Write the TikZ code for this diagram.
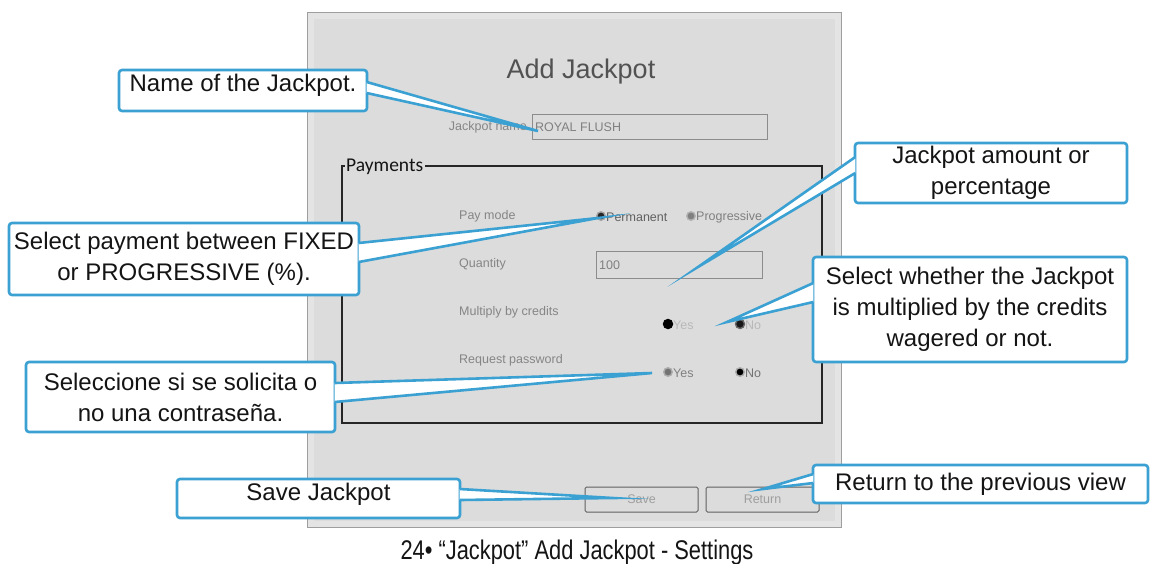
\documentclass[tikz,border=0pt]{standalone}
\usepackage{fontspec}
\setmainfont{Liberation Sans}
\newfontfamily\grpfont{Carlito}
\newfontfamily\narrowfont[FakeStretch=0.81]{Liberation Sans}
\usetikzlibrary{calc}
\definecolor{cblue}{RGB}{59,160,210}
\definecolor{panelout}{RGB}{228,228,228}
\definecolor{panelin}{RGB}{220,220,220}

% pointer wedge from a callout box to a target:
% #1 box, #2 side anchor, #3/#4 base y values, #5 target, #6 inward shift
\newcommand\calloutwedge[6]{%
  \path ($(#1.#2 |- 0,#3)+(#6,0)$) coordinate (#1-a)
        ($(#1.#2 |- 0,#4)+(#6,0)$) coordinate (#1-b);
  \fill[white] (#1-a) -- (#5) -- (#1-b) -- cycle;
  \draw[ptrline] (#1-a) -- (#5) -- (#1-b);
}

\begin{document}
\begin{tikzpicture}[x=1pt,y=-1pt,
  cbox/.style={draw=cblue, line width=2.6pt, fill=white, rounded corners=3pt,
    inner sep=0pt, align=center, font=\fontsize{24}{31}\selectfont, text=black!92},
  ptrline/.style={draw=cblue, line width=2.6pt, line join=miter, miter limit=30},
  uilabel/.style={anchor=west, inner sep=0pt, font=\fontsize{12.5}{14}\selectfont, text=black!48},
  radio/.style={circle, inner sep=0pt, minimum size=8.5pt, line width=1.4pt},
  uibutton/.style={draw=black!62, line width=1pt, rounded corners=1.5pt, inner sep=0pt,
    minimum width=113pt, minimum height=25pt, font=\fontsize{12.5}{14}\selectfont, text=black!38},
  field/.style={draw=black!45, line width=0.9pt, inner sep=0pt, anchor=north west},
  groupline/.style={draw=black!85, line width=1.8pt}
]
\useasboundingbox (0,0) rectangle (1151,563);

% window panel
\node[fill=panelout, draw=black!38, line width=1pt, inner sep=0pt, anchor=north west,
  minimum width=534pt, minimum height=515pt] (panel) at (307,12) {};
\node[fill=panelin, inner sep=0pt, anchor=north west,
  minimum width=521pt, minimum height=502pt] (panelbody) at (314,19) {};

\node[text=black!68, font=\fontsize{27}{30}\selectfont, inner sep=0pt] (title) at (581,72) {Add Jackpot};

% name field
\node[uilabel, anchor=east] (nameLbl) at (527,127) {Jackpot name};
\node[field, minimum width=235pt, minimum height=25pt] (nameField) at (532,114) {};
\node[uilabel, text=black!50] (nameVal) at (535,127) {ROYAL FLUSH};

% payments group
\node[anchor=west, inner sep=0pt, font=\grpfont\fontsize{19.5}{21}\selectfont, text=black!92] (grp) at (346,167) {Payments};
\draw[groupline] (grp.east |- 0,166) ++(2,0) -- (822,166) -- (822,423) -- (342,423) -- (342,166) -- (345,166);

\node[uilabel] (payLbl) at (459,216) {Pay mode};
\node[uilabel] (qtyLbl) at (459,264) {Quantity};
\node[uilabel] (multLbl) at (459,312) {Multiply by credits};
\node[uilabel] (pwdLbl) at (459,360) {Request password};

\node[radio, draw=black!35, fill=black!85] (rPerm) at (601,216) {};
\node[uilabel, text=black!62] (tPerm) at (606,217) {Permanent};
\node[radio, draw=black!30, fill=black!50] (rProg) at (691,216) {};
\node[uilabel, text=black!50] (tProg) at (696,217) {Progressive};

\node[field, minimum width=166pt, minimum height=27pt] (qtyField) at (596,251) {};
\node[uilabel, text=black!50] (qtyVal) at (599,265) {100};

\node[radio, draw=black, fill=black, minimum size=9pt] (rMultYes) at (668,324) {};
\node[uilabel, text=black!28] (tMultYes) at (673,325) {Yes};
\node[radio, draw=black!60, fill=black!90, minimum size=9pt] (rMultNo) at (740,324) {};
\node[uilabel, text=black!28] (tMultNo) at (745,325) {No};

\node[radio, draw=black!32, fill=black!55] (rPwdYes) at (668,372) {};
\node[uilabel, text=black!50] (tPwdYes) at (673,373) {Yes};
\node[radio, draw=black!32, fill=black] (rPwdNo) at (740,372) {};
\node[uilabel, text=black!55] (tPwdNo) at (745,373) {No};

% buttons
\node[uibutton] (saveBtn) at (641.5,499.5) {Save};
\node[uibutton] (retBtn) at (762.5,499.5) {Return};

% pointer targets
\coordinate (nameTip) at (538,131);
\coordinate (amountTip) at (698,267);
\coordinate (multTip) at (727,322);
\coordinate (payTip) at (598,218);
\coordinate (pwdTip) at (652,373);
\coordinate (saveTip) at (613,498);
\coordinate (retTip) at (763,489);

% callouts
\node[cbox, minimum width=248pt, minimum height=41pt, text depth=15pt] (nameBox) at (243,90.5) {Name of the Jackpot.};
\node[cbox, minimum width=272pt, minimum height=60pt] (amountBox) at (991,173) {Jackpot amount or\\percentage};
\node[cbox, minimum width=314pt, minimum height=105pt] (multBox) at (970,309.5) {Select whether the Jackpot\\is multiplied by the credits\\wagered or not.};
\node[cbox, minimum width=350pt, minimum height=72pt] (payBox) at (184,259) {Select payment between FIXED\\or PROGRESSIVE (\%).};
\node[cbox, minimum width=309pt, minimum height=70pt] (pwdBox) at (180.5,397) {Seleccione si se solicita o\\no una contraseña.};
\node[cbox, minimum width=283pt, minimum height=39pt, text depth=14pt] (saveBox) at (318.5,498.5) {Save Jackpot};
\node[cbox, minimum width=335pt, minimum height=38pt] (retBox) at (980.5,484) {Return to the previous view};

\calloutwedge{nameBox}{east}{82}{93}{nameTip}{-1.6}
\calloutwedge{amountBox}{west}{157}{173}{amountTip}{1.6}
\calloutwedge{multBox}{west}{283}{302}{multTip}{1.6}
\calloutwedge{payBox}{east}{243}{262}{payTip}{-1.6}
\calloutwedge{pwdBox}{east}{383}{402}{pwdTip}{-1.6}
\calloutwedge{saveBox}{east}{489}{500}{saveTip}{-1.6}
\calloutwedge{retBox}{west}{474}{483}{retTip}{1.6}

% caption
\node[font=\narrowfont\fontsize{27}{30}\selectfont, text=black!92, inner sep=0pt, anchor=base] (caption) at (577,559.5) {24• “Jackpot” Add Jackpot - Settings};
\end{tikzpicture}
\end{document}
